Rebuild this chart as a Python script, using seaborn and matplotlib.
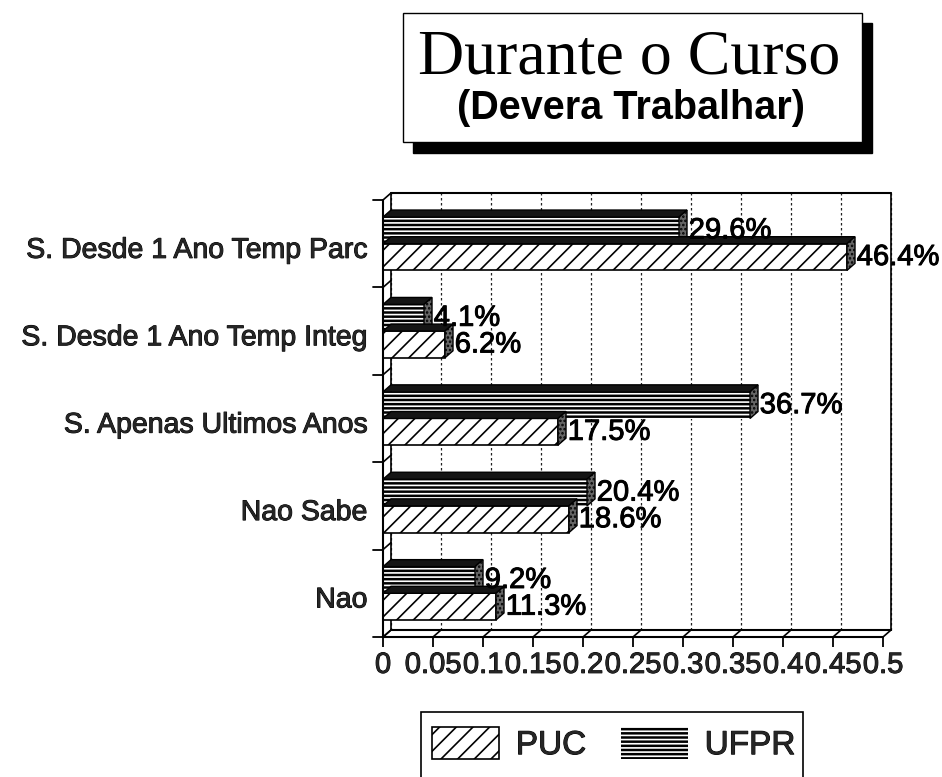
import matplotlib
matplotlib.use("Agg")
import matplotlib.pyplot as plt
import matplotlib.patheffects as pe
from matplotlib.patches import Polygon, Rectangle
from matplotlib.transforms import ScaledTranslation
import pandas as pd
import seaborn as sns

categories = ["S. Desde 1 Ano Temp Parc", "S. Desde 1 Ano Temp Integ",
              "S. Apenas Ultimos Anos", "Nao Sabe", "Nao"]
puc = [0.464, 0.062, 0.175, 0.186, 0.113]
ufpr = [0.296, 0.041, 0.367, 0.204, 0.092]
xticks = [0, 0.05, 0.1, 0.15, 0.2, 0.25, 0.3, 0.35, 0.4, 0.45, 0.5]
xticklabels = ["0", "0.05", "0.1", "0.15", "0.2", "0.25", "0.3", "0.35", "0.4", "0.45", "0.5"]

W, H = 942, 777
DX, DY = 8, 7  # depth of the fake 3d, px

sns.set_theme(style="white")
plt.rcParams["font.family"] = ["Liberation Sans", "DejaVu Sans"]
plt.rcParams["hatch.linewidth"] = 1.2

df = pd.DataFrame({
    "cat": categories * 2,
    "val": ufpr + puc,
    "school": ["UFPR"] * 5 + ["PUC"] * 5,
})

fig = plt.figure(figsize=(W / 100, H / 100), dpi=100)
ax = fig.add_axes([383 / W, 1 - 637 / H, 500 / W, 437 / H])
sns.barplot(data=df, y="cat", x="val", hue="school", hue_order=["UFPR", "PUC"],
            order=categories, width=0.61, ax=ax, legend=False, saturation=1,
            palette={"UFPR": "black", "PUC": "white"})
ax.set_xlim(0, 0.5)
ax.set_ylim(4.5, -0.5)
ax.set_xlabel("")
ax.set_ylabel("")

bold = [pe.withStroke(linewidth=0.7, foreground="black")]
dx = DX * 0.5 / 500
dy = DY * 5 / 437

for spine in ax.spines.values():
    spine.set_visible(False)
ax.patch.set_visible(False)

# back wall, floor and left wall
for x in xticks:
    ax.plot([x + dx, x + dx], [4.5 - dy, -0.5 - dy], color="#222222", lw=0.9,
            ls=(0, (2, 2)), clip_on=False, zorder=0.5)
    ax.plot([x, x + dx], [4.5, 4.5 - dy], color="black", lw=1.2, clip_on=False, zorder=0.5)
ax.plot([0, 0.5], [4.5, 4.5], color="black", lw=1.5, clip_on=False)
ax.plot([dx, 0.5 + dx], [4.5 - dy, 4.5 - dy], color="black", lw=1.5, clip_on=False, zorder=0.5)
ax.plot([dx, 0.5 + dx], [-0.5 - dy, -0.5 - dy], color="black", lw=1.5, clip_on=False, zorder=0.5)
ax.plot([0, 0], [-0.5, 4.5], color="black", lw=1.5, clip_on=False, zorder=4)
ax.plot([dx, dx], [-0.5 - dy, 4.5 - dy], color="black", lw=1.2, clip_on=False, zorder=0.5)
ax.plot([0.5 + dx, 0.5 + dx], [-0.5 - dy, 4.5 - dy], color="black", lw=1.2, clip_on=False, zorder=0.5)
for k in range(6):
    ax.plot([0, dx], [k - 0.5, k - 0.5 - dy], color="black", lw=1.2, clip_on=False, zorder=0.5)

# hatches and 3d faces from the bars themselves
styles = [("----", "white", 0), ("//", "black", 1.2)]
for cont, (hatch, edge, lw) in zip(ax.containers, styles):
    for bar in cont:
        x1 = bar.get_width()
        y0 = bar.get_y()
        y1 = y0 + bar.get_height()
        bar.set_hatch(hatch)
        bar.set_edgecolor(edge)
        bar.set_linewidth(lw)
        bar.set_zorder(3)
        ax.add_patch(Polygon([(0, y0), (dx, y0 - dy), (x1 + dx, y0 - dy), (x1, y0)],
                             fc="#151515", ec="black", lw=1, zorder=3, clip_on=False))
        ax.add_patch(Polygon([(x1, y0), (x1 + dx, y0 - dy), (x1 + dx, y1 - dy), (x1, y1)],
                             fc="#666666", ec="black", lw=1, hatch="....", zorder=3, clip_on=False))

for cont, vals in zip(ax.containers, [ufpr, puc]):
    labs = ax.bar_label(cont, labels=[f"{v * 100:.1f}%" for v in vals], padding=7,
                        fontsize=21, color="black", zorder=5)
    for t in labs:
        t.set_path_effects(bold)

ax.set_xticks(xticks, xticklabels)
ax.tick_params(axis="x", length=7, width=1.3, color="black", bottom=True, pad=3, labelsize=21)
ax.tick_params(axis="y", length=0, labelsize=20.5, pad=11)
for t in ax.get_xticklabels() + ax.get_yticklabels():
    t.set_path_effects(bold)
# the category names sit a little below the middle of their group
down = ScaledTranslation(0, -3 / 72, fig.dpi_scale_trans)
for t in ax.get_yticklabels():
    t.set_transform(t.get_transform() + down)
for y in [k - 0.5 for k in range(6)]:
    ax.plot([-0.01, 0], [y, y], color="black", lw=1.3, clip_on=False)


def px_rect(x0, y0, x1, y1, **kw):
    fig.add_artist(Rectangle((x0 / W, 1 - y1 / H), (x1 - x0) / W, (y1 - y0) / H,
                             transform=fig.transFigure, **kw))


# title box with its shadow
px_rect(413, 23, 872, 153, fc="black", ec="black")
px_rect(403, 13, 862, 142, fc="white", ec="black", lw=1)
fig.text(629 / W, 1 - 58 / H, "Durante o Curso", family="Liberation Serif", fontsize=46,
         ha="center", va="center", color="black")
fig.text(631 / W, 1 - 108 / H, "(Devera Trabalhar)", fontsize=28.5, fontweight="bold",
         ha="center", va="center", color="black")

# legend box, cut by the edge of the page
px_rect(421, 712, 803, 790, fc="white", ec="black", lw=1.2)
leg = fig.legend(handles=[ax.containers[1][0], ax.containers[0][0]], labels=["PUC", "UFPR"],
                 ncol=2, frameon=False, fontsize=24, loc="center", handlelength=2.0,
                 handleheight=1.1, columnspacing=1.05, handletextpad=0.5,
                 bbox_to_anchor=(614 / W, 1 - 744 / H))
for t in leg.get_texts():
    t.set_path_effects(bold)

fig.savefig("out.png", dpi=100)
